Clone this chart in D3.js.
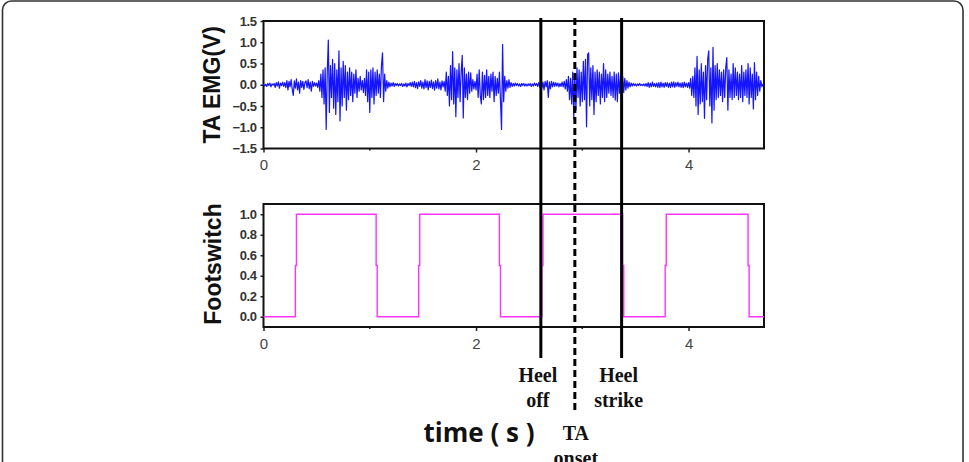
<!DOCTYPE html>
<html>
<head>
<meta charset="utf-8">
<script src="https://cdn.jsdelivr.net/npm/d3@7"></script>
<style>
  body { margin: 0; background: #fff; }
  svg { display: block; }
  .axis text { font-family: "Liberation Sans", Arial, sans-serif; }
</style>
</head>
<body>
<svg class="svg"></svg>
<script>
// EMG samples, one every 0.01 s starting at 0 s (10 per row)
const emgStep = 0.01;
const emgValues = [
  0.02,-0.03,0.01,-0.04,0.03,-0.02,0.04,-0.05,0.02,-0.01,
  0.03,-0.06,0.05,-0.03,0.07,-0.08,0.04,-0.02,0.06,-0.04,
  0.05,-0.07,0.10,-0.12,0.08,-0.05,0.12,-0.10,-0.25,0.09,
  -0.08,0.14,-0.12,0.06,-0.20,0.10,-0.06,0.08,-0.11,0.05,
  0.09,-0.07,0.12,-0.09,0.06,-0.15,0.08,-0.04,0.05,-0.03,
  0.04,-0.06,0.10,-0.15,0.25,-0.30,0.35,-0.45,0.40,-1.05,
  0.30,1.05,-0.65,0.45,-0.30,0.60,-0.55,0.50,-0.70,0.35,
  -0.40,0.80,-0.85,0.40,-0.50,0.55,-0.30,0.45,-0.60,0.30,
  -0.35,0.40,-0.25,0.30,-0.40,0.25,-0.20,0.35,-0.30,0.15,
  -0.15,0.20,-0.12,0.10,-0.18,0.15,-0.25,0.35,-0.40,0.30,
  -0.65,0.35,-0.30,0.40,-0.45,0.30,-0.25,0.35,-0.20,0.25,
  -0.30,0.45,0.75,-0.40,0.25,-0.15,0.10,-0.08,0.06,-0.05,
  0.04,-0.03,0.05,-0.04,0.03,-0.02,0.03,-0.03,0.02,-0.02,
  0.03,-0.04,0.02,-0.03,0.04,-0.05,0.03,-0.02,0.05,-0.04,
  0.06,-0.05,0.08,-0.07,0.05,-0.09,0.07,-0.04,0.10,-0.08,
  0.06,-0.10,0.12,-0.07,0.09,-0.12,0.08,-0.06,0.11,-0.09,
  0.07,-0.13,0.10,-0.08,0.14,-0.10,0.06,-0.12,0.09,-0.05,
  0.08,-0.15,0.30,-0.25,0.20,-0.50,0.45,-0.35,0.78,-0.45,
  0.40,-0.75,0.35,-0.30,0.50,-0.40,0.30,0.69,-0.78,0.40,
  -0.30,0.25,-0.35,0.30,-0.20,0.28,-0.15,0.12,-0.10,0.08,
  -0.12,0.25,-0.30,0.35,-0.25,-0.45,0.30,-0.35,0.22,-0.30,
  0.35,-0.25,0.20,-0.30,0.25,-0.15,0.30,-0.40,0.20,-0.25,
  0.15,-0.20,0.30,-0.35,-1.05,0.95,-0.40,0.20,-0.15,0.10,
  -0.08,0.12,-0.06,0.05,-0.04,0.03,-0.03,0.04,-0.02,0.03,
  -0.03,0.02,-0.04,0.03,-0.02,0.03,-0.03,0.02,-0.03,0.02,
  -0.02,0.03,-0.04,0.02,-0.03,0.04,-0.02,0.03,-0.04,0.05,
  -0.06,0.10,-0.08,0.06,-0.12,0.08,-0.05,0.10,-0.30,0.07,
  -0.10,0.08,-0.05,0.06,-0.04,0.05,-0.03,0.04,-0.05,0.03,
  -0.04,0.06,-0.05,0.08,-0.10,0.12,-0.15,0.20,-0.35,0.15,
  -0.45,0.30,-0.80,0.25,-0.60,0.40,-0.30,0.35,-0.50,0.30,
  -0.40,0.55,-0.35,0.60,-0.99,0.71,0.75,-0.50,0.40,-0.35,
  0.45,-0.70,0.30,-0.40,0.35,-0.25,0.30,-0.45,0.25,-0.30,
  0.50,-0.40,0.35,-0.30,0.25,-0.20,0.30,-0.25,0.20,-0.30,
  0.30,-0.36,0.25,-0.40,0.28,-0.20,0.22,-0.15,0.20,-0.18,
  0.15,-0.12,0.10,-0.08,0.06,-0.05,0.04,-0.03,0.03,-0.02,
  0.02,-0.03,0.02,-0.02,0.03,-0.02,0.01,-0.02,0.02,-0.03,
  0.03,-0.04,0.05,-0.06,0.04,-0.05,0.06,-0.04,0.03,-0.05,
  0.04,-0.06,0.05,-0.07,0.06,-0.05,0.04,-0.06,0.05,-0.04,
  0.05,-0.06,0.04,-0.07,0.06,-0.05,0.07,-0.06,0.05,-0.04,
  0.06,-0.05,0.04,-0.06,0.05,-0.07,0.06,-0.05,0.04,-0.06,
  0.05,-0.08,0.15,-0.25,0.20,-0.30,0.40,-0.50,0.67,-0.70,
  0.35,-0.45,0.50,-0.40,0.30,-0.79,0.45,-0.35,0.60,0.80,
  -0.50,0.40,-0.90,0.88,-0.60,0.45,-0.35,0.50,-0.30,0.35,
  -0.25,0.30,-0.40,0.35,-0.30,0.40,0.64,-0.60,0.35,-0.30,
  0.25,-0.35,0.50,-0.30,0.40,-0.25,0.30,-0.35,0.25,-0.30,
  0.45,-0.40,0.30,-0.25,0.35,-0.30,0.50,-0.45,0.40,-0.30,
  0.25,-0.57,0.52,-0.35,0.30,-0.25,0.20,-0.15,0.10,-0.05,
  0.02
];

// footswitch trace (time in s, state 0..1)
const footTimes  = [0, 0.30, 0.30, 0.31, 0.31, 1.06, 1.06, 1.07, 1.07, 1.46, 1.46, 1.47, 1.47, 2.22, 2.22, 2.23, 2.23,
                    2.62, 2.62, 2.63, 2.63, 3.38, 3.38, 3.39, 3.39, 3.78, 3.78, 3.79, 3.79, 4.56, 4.56, 4.57, 4.57, 4.71];
const footValues = [0, 0, 0.5, 0.5, 1, 1, 0.5, 0.5, 0, 0, 0.5, 0.5, 1, 1, 0.5, 0.5, 0,
                    0, 0.5, 0.5, 1, 1, 0.5, 0.5, 0, 0, 0.5, 0.5, 1, 1, 0.5, 0.5, 0, 0];

const xTicks = [0, 2, 4];
const xMinorTicks = [1, 3];
const emgTicks = [-1.5, -1.0, -0.5, 0.0, 0.5, 1.0, 1.5];
const footTicks = [0.0, 0.2, 0.4, 0.6, 0.8, 1.0];

const eventNames = [['Heel', 'off'], ['TA', 'onset'], ['Heel', 'strike']];
const eventTimes = [2.61, 2.93, 3.37];

function drawFigure() {
    const width = 969;
    const height = 462;
    const plot = { left: 263.5, right: 764 };
    const emgBox = { top: 21, bottom: 148.5 };
    const footBox = { top: 204, bottom: 327 };

    const svg = d3.select('.svg')
        .attr('width', width)
        .attr('height', height);

    /* outer rounded frame */
    svg.append('rect')
        .attr('x', 2.5).attr('y', 1)
        .attr('width', 960.5).attr('height', 490)
        .attr('rx', 9)
        .attr('fill', 'none')
        .attr('stroke', '#333')
        .attr('stroke-width', 1.6);

    /* SCALES */
    const xScale = d3.scaleLinear()
        .domain([0, 4.71])
        .range([plot.left, plot.right]);
    const yEmg = d3.scaleLinear()
        .domain([-1.5, 1.5])
        .range([emgBox.bottom, emgBox.top]);
    const yFoot = d3.scaleLinear()
        .domain([-0.1, 1.1])
        .range([footBox.bottom, footBox.top]);

    const drawPanel = (box, yScale, ticks) => {
        // x axis
        svg.append('g')
            .attr('class', 'axis')
            .attr('transform', `translate(0, ${box.bottom})`)
            .call(d3.axisBottom(xScale).tickValues(xTicks).tickFormat(d3.format('d'))
                .tickSizeInner(4).tickSizeOuter(0).tickPadding(7))
            .call(g => g.select('.domain').remove())
            .call(g => g.selectAll('text').attr('font-size', 15).attr('fill', '#444'))
            .call(g => g.selectAll('line').attr('stroke', '#222').attr('stroke-width', 1.5));
        svg.append('g')
            .attr('transform', `translate(0, ${box.bottom})`)
            .selectAll('line')
            .data(xMinorTicks).enter()
            .append('line')
            .attr('x1', d => xScale(d)).attr('x2', d => xScale(d))
            .attr('y1', 0).attr('y2', 2)
            .attr('stroke', '#222').attr('stroke-width', 1.5);

        // y axis
        svg.append('g')
            .attr('class', 'axis')
            .attr('transform', `translate(${plot.left}, 0)`)
            .call(d3.axisLeft(yScale).tickValues(ticks).tickFormat(d3.format('.1f'))
                .tickSizeInner(3).tickSizeOuter(0).tickPadding(4))
            .call(g => g.select('.domain').remove())
            .call(g => g.selectAll('text').attr('font-size', 13).attr('font-weight', 'bold')
                .attr('fill', '#333').attr('letter-spacing', -0.4))
            .call(g => g.selectAll('line').attr('stroke', '#222').attr('stroke-width', 1.5));

        // frame
        svg.append('rect')
            .attr('x', plot.left).attr('y', box.top)
            .attr('width', plot.right - plot.left)
            .attr('height', box.bottom - box.top)
            .attr('fill', 'none')
            .attr('stroke', '#111')
            .attr('stroke-width', 2);
    };

    drawPanel(emgBox, yEmg, emgTicks);
    drawPanel(footBox, yFoot, footTicks);

    /* EMG trace */
    svg.append('path')
        .datum(emgValues)
        .attr('fill', 'none')
        .attr('stroke', '#1414ff')
        .attr('stroke-width', 1.2)
        .attr('stroke-linejoin', 'round')
        .attr('d', d3.line()
            .x((d, i) => xScale(i * emgStep))
            .y(d => yEmg(d)));

    /* footswitch trace */
    svg.append('path')
        .datum(footTimes.map((t, i) => [t, footValues[i]]))
        .attr('fill', 'none')
        .attr('stroke', '#ff33ff')
        .attr('stroke-width', 1.4)
        .attr('d', d3.line()
            .x(d => xScale(d[0]))
            .y(d => yFoot(d[1])));

    /* axis titles */
    svg.append('text')
        .attr('transform', `translate(220, ${(emgBox.top + emgBox.bottom) / 2}) rotate(-90)`)
        .attr('text-anchor', 'middle')
        .style('font-family', '"Liberation Sans", Arial, sans-serif')
        .style('font-weight', 'bold')
        .style('font-size', '23px')
        .attr('fill', '#111')
        .text('TA EMG(V)');
    svg.append('text')
        .attr('transform', `translate(221, 264) rotate(-90)`)
        .attr('text-anchor', 'middle')
        .style('font-family', '"Liberation Sans", Arial, sans-serif')
        .style('font-weight', 'bold')
        .style('font-size', '23px')
        .attr('fill', '#111')
        .text('Footswitch');
    svg.append('text')
        .attr('x', 479)
        .attr('y', 441.5)
        .attr('text-anchor', 'middle')
        .style('font-family', '"Open Sans", "Noto Sans", sans-serif')
        .style('font-weight', 'bold')
        .style('font-size', '26px')
        .attr('fill', '#111')
        .text('time ( s )');

    /* gait events */
    eventTimes.forEach((t, i) => {
        const x = xScale(t);
        const onset = eventNames[i][0] === 'TA';
        svg.append('line')
            .attr('x1', x).attr('x2', x)
            .attr('y1', 18)
            .attr('y2', onset ? 410 : 358)
            .attr('stroke', '#000')
            .attr('stroke-width', 3)
            .attr('stroke-dasharray', onset ? '7,4' : null);
        const label = svg.append('text')
            .attr('text-anchor', 'middle')
            .style('font-family', '"Liberation Serif", "Times New Roman", serif')
            .style('font-weight', 'bold')
            .style('font-size', '20px')
            .attr('fill', '#111');
        const lx = onset ? x + 1 : x - 3;
        const ly = onset ? 440 : 382;
        label.append('tspan').attr('x', lx).attr('y', ly).text(eventNames[i][0]);
        label.append('tspan').attr('x', lx).attr('y', ly + 25).text(eventNames[i][1]);
    });
}

document.addEventListener('DOMContentLoaded', () => drawFigure());
</script>
</body>
</html>
